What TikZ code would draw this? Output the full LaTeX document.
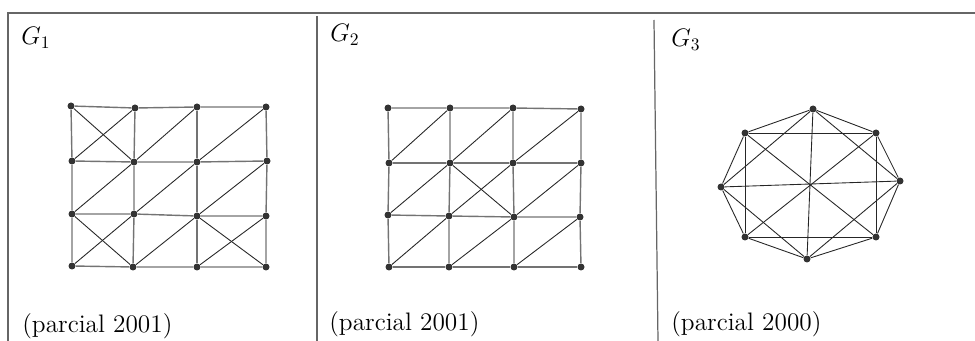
\documentclass[tikz,border=0pt]{standalone}
\usepackage{tikz}

\tikzset{
  dot/.style={circle, fill=black!80, inner sep=0pt, minimum size=0.14cm},
  grid/.style={draw=black!55, line width=0.8pt},
  diag/.style={draw=black!85, line width=0.5pt},
  frame/.style={draw=black!60, line width=0.7pt},
  title/.style={anchor=base west, inner sep=0pt, font=\Large},
  year/.style={anchor=base west, inner sep=0pt, font=\Large}
}

\begin{document}
\begin{tikzpicture}[x=0.02cm, y=-0.02cm]
\useasboundingbox (0,0) rectangle (975,341);

% Frame
\coordinate (TL) at (8,13);
\coordinate (TR) at (975,13);
\coordinate (BL) at (8,341);
\coordinate (D1t) at (317,16);
\coordinate (D1b) at (317,341);
\coordinate (D2t) at (654,20);
\coordinate (D2b) at (658,341);
\draw[frame] (BL) -- (TL) -- (TR);
\draw[frame] (D1t) -- (D1b);
\draw[frame] (D2t) -- (D2b);

% Labels
\node[title] (g1) at (21,45) {$G_1$};
\node[title] (g2) at (330,42) {$G_2$};
\node[title] (g3) at (671,47) {$G_3$};
\node[year] (p1) at (22,333) {(parcial 2001)};
\node[year] (p2) at (329,331) {(parcial 2001)};
\node[year] (p3) at (671,331) {(parcial 2000)};

% G1
\node[dot] (a00) at (71,106) {};
\node[dot] (a01) at (135,108) {};
\node[dot] (a02) at (197,107) {};
\node[dot] (a03) at (266,107) {};
\node[dot] (a10) at (72,161) {};
\node[dot] (a11) at (134,162) {};
\node[dot] (a12) at (197,162) {};
\node[dot] (a13) at (267,161) {};
\node[dot] (a20) at (72,214) {};
\node[dot] (a21) at (134,214) {};
\node[dot] (a22) at (197,216) {};
\node[dot] (a23) at (266,216) {};
\node[dot] (a30) at (72,266) {};
\node[dot] (a31) at (133,267) {};
\node[dot] (a32) at (197,267) {};
\node[dot] (a33) at (266,267) {};

\foreach \r in {0,1,2,3}{
  \draw[grid] (a\r0) -- (a\r1) -- (a\r2) -- (a\r3);
  \draw[grid] (a0\r) -- (a1\r) -- (a2\r) -- (a3\r);
}
\draw[diag] (a00) -- (a11);
\draw[diag] (a10) -- (a01);
\draw[diag] (a11) -- (a02);
\draw[diag] (a12) -- (a03);
\draw[diag] (a20) -- (a11);
\draw[diag] (a21) -- (a12);
\draw[diag] (a22) -- (a13);
\draw[diag] (a20) -- (a31);
\draw[diag] (a30) -- (a21);
\draw[diag] (a31) -- (a22);
\draw[diag] (a22) -- (a33);
\draw[diag] (a32) -- (a23);

% G2
\node[dot] (b00) at (388,108) {};
\node[dot] (b01) at (450,108) {};
\node[dot] (b02) at (513,108) {};
\node[dot] (b03) at (581,109) {};
\node[dot] (b10) at (389,163) {};
\node[dot] (b11) at (450,163) {};
\node[dot] (b12) at (513,163) {};
\node[dot] (b13) at (581,163) {};
\node[dot] (b20) at (388,215) {};
\node[dot] (b21) at (449,216) {};
\node[dot] (b22) at (514,217) {};
\node[dot] (b23) at (580,217) {};
\node[dot] (b30) at (389,267) {};
\node[dot] (b31) at (449,267) {};
\node[dot] (b32) at (514,267) {};
\node[dot] (b33) at (581,267) {};

\foreach \r in {0,1,2,3}{
  \draw[grid] (b\r0) -- (b\r1) -- (b\r2) -- (b\r3);
  \draw[grid] (b0\r) -- (b1\r) -- (b2\r) -- (b3\r);
}
\draw[diag] (b10) -- (b01);
\draw[diag] (b11) -- (b02);
\draw[diag] (b12) -- (b03);
\draw[diag] (b20) -- (b11);
\draw[diag] (b11) -- (b22);
\draw[diag] (b21) -- (b12);
\draw[diag] (b22) -- (b13);
\draw[diag] (b30) -- (b21);
\draw[diag] (b31) -- (b22);
\draw[diag] (b32) -- (b23);

% G3
\node[dot] (cT) at (813,109) {};
\node[dot] (cTR) at (876,133) {};
\node[dot] (cR) at (900,181) {};
\node[dot] (cBR) at (876,237) {};
\node[dot] (cB) at (807,259) {};
\node[dot] (cBL) at (745,237) {};
\node[dot] (cL) at (721,187) {};
\node[dot] (cTL) at (745,133) {};

\draw[diag] (cT) -- (cTR) -- (cR) -- (cBR) -- (cB) -- (cBL) -- (cL) -- (cTL) -- (cT);
\draw[diag] (cTL) -- (cTR) -- (cBR) -- (cBL) -- (cTL);
\draw[diag] (cTL) -- (cBR);
\draw[diag] (cTR) -- (cBL);
\draw[diag] (cL) -- (cR);
\draw[diag] (cT) -- (cB);
\draw[diag] (cT) -- (cL);
\draw[diag] (cT) -- (cR);
\draw[diag] (cB) -- (cL);
\draw[diag] (cB) -- (cR);

\end{tikzpicture}
\end{document}
